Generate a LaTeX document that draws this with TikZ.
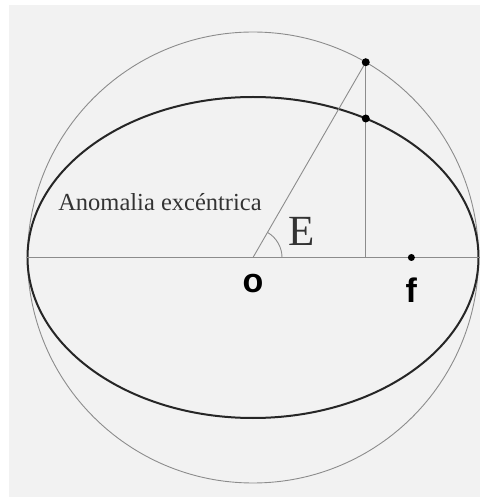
\documentclass[tikz,border=0pt]{standalone}
\usepackage{fontspec}
\setmainfont{Liberation Serif}
\newfontfamily\labelsans{Liberation Sans}
\usetikzlibrary{positioning,calc}
\definecolor{paper}{HTML}{F2F2F2}
\tikzset{
  guideline/.style={draw=black!45, line width=0.9pt},
  orbitline/.style={draw=black!85, line width=2pt},
  dotmark/.style={circle, fill=black, inner sep=0pt, minimum size=8pt},
  serifname/.style={font=\fontsize{24.5}{28}\selectfont, text=black!80},
  anglename/.style={font=\fontsize{43}{48}\selectfont, text=black!80},
  pointname/.style={font=\labelsans\bfseries\fontsize{34}{38}\selectfont},
}
\begin{document}
\begin{tikzpicture}[x=1pt,y=1pt]
    \useasboundingbox (-253,-242.5) rectangle (229,257.5);
    \fill[paper] (-244,-239.5) rectangle (227,252.5);
    \coordinate (O) at (0,0);
    \coordinate (L) at (-225.5,0);
    \coordinate (R) at (225.5,0);
    \coordinate (P) at (60:225.5);
    \coordinate (H) at (P |- O);
    % auxiliary circle and orbit
    \draw[guideline] (O) circle (225.5);
    \draw[orbitline] (O) ellipse (225.5 and 160.5);
    \draw[guideline] (L) -- (R);
    \draw[guideline] (O) -- (P);
    \draw[guideline] (P) -- (H);
    \draw[guideline] ([shift={(0:29)}]O) arc (0:60:29);
    \node[dotmark] (top)   at (P) {};
    \node[dotmark] (orb)   at (60:225.5 and 160.5) {};
    \node[dotmark, minimum size=7pt] (focus) at (158.4,0) {};
    \node[serifname] (anom) at (-93,55.5) {Anomalia excéntrica};
    \node[anglename] (ang)  at (49,26.5) {E};
    \node[pointname] (olab) at (0,-26) {o};
    \node[pointname] (flab) at (focus.center |- 0,-33) {f};
  \end{tikzpicture}
\end{document}
